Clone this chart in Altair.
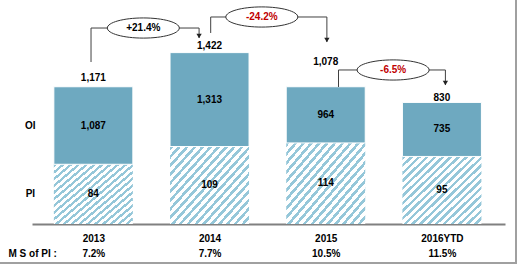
import json
import altair as alt
import pandas as pd

# ---------------- data ----------------
years = ["2013", "2014", "2015", "2016YTD"]
oi_values = [1087, 1313, 964, 735]
pi_values = [84, 109, 114, 95]
total_values = [1171, 1422, 1078, 830]
ms_of_pi = ["7.2%", "7.7%", "10.5%", "11.5%"]

# the chart is drawn not to scale: segment heights as read on its hidden axis
oi_drawn = [1090, 1320, 790, 760]
pi_drawn = [840, 1090, 1140, 950]
total_label_at = [2053, 2503, 2278, 1772]

# year-over-year change call-outs (hidden-axis units / year index units)
change_labels = ["+21.4%", "-24.2%", "-6.5%"]
change_start_x = [-0.02, 1.01, 2.11]
change_mid_x = [0.43, 1.45, 2.58]
change_end_x = [0.91, 2.01, 3.03]
change_start_y = [2278, 2686, 1927]
change_level_y = [2756, 2911, 2166]
change_end_y = [2616, 2559, 1955]

series_names = ["OI", "PI"]

# ---------------- tables ----------------
bars = pd.DataFrame({
    "idx": list(range(len(years))),
    "year": years,
    "oi": oi_values,
    "pi": pi_values,
    "total": total_values,
    "oi_drawn": oi_drawn,
    "pi_drawn": pi_drawn,
    "total_at": total_label_at,
})
bars["top"] = bars["oi_drawn"] + bars["pi_drawn"]
bars["oi_mid"] = bars["pi_drawn"] + bars["oi_drawn"] / 2
bars["pi_mid"] = bars["pi_drawn"] / 2

conn = pd.DataFrame({
    "label": change_labels,
    "sx": change_start_x,
    "mx": change_mid_x,
    "ex": change_end_x,
    "sy": change_start_y,
    "ly": change_level_y,
    "ey": change_end_y,
})

series = pd.DataFrame({
    "name": series_names,
    "idx": [0, 0],
    "y": [bars["oi_mid"][0], bars["pi_mid"][0]],
})

# ---------------- styles ----------------
FONT = "Liberation Sans"
OI_COLOR = "#6ea9c0"
HATCH = "#95c7d9"
LINE = "#404040"

N = 19
stops = []
for i in range(N):
    a = i / N
    b = (i + 0.45) / N
    c = (i + 1) / N
    stops += [
        alt.GradientStop(offset=a, color=HATCH),
        alt.GradientStop(offset=b, color=HATCH),
        alt.GradientStop(offset=b, color="#ffffff"),
        alt.GradientStop(offset=c, color="#ffffff"),
    ]
hatch = alt.LinearGradient(gradient="linear", stops=stops, x1=0, y1=0, x2=1.057, y2=0.936)

xscale = alt.Scale(domain=[-0.485, 3.5], nice=False, zero=False)
yscale = alt.Scale(domain=[0, 3150], nice=False, zero=True)

label_expr = json.dumps([[y, m] for y, m in zip(years, ms_of_pi)]) + "[datum.value]"

x_axis = alt.Axis(
    values=list(range(len(years))),
    labelExpr=label_expr,
    labelFont=FONT, labelFontSize=10, labelFontWeight="bold", labelColor="black",
    labelLineHeight=15, labelPadding=9, labelFlush=False, labelOverlap=False,
    ticks=False, grid=False, domainColor="#808080", domainWidth=2,
    title="M S of PI :", titleFont=FONT, titleFontSize=10, titleFontWeight="bold",
    titleColor="black", titleX=-24, titleY=29, titleAlign="left", titleBaseline="middle",
    titleAngle=0,
)


def X(field):
    return alt.X(field, type="quantitative", scale=xscale, axis=x_axis)


def Y(field):
    return alt.Y(field, type="quantitative", scale=yscale, axis=None)


base = alt.Chart(bars)

pi_bar = base.mark_bar(size=79, color=hatch).encode(
    x=X("idx"), y=Y("pi_drawn"), y2=alt.datum(0),
)
oi_bar = base.mark_bar(size=79, color=OI_COLOR, stroke="white", strokeWidth=1).encode(
    x=X("idx"), y=Y("pi_drawn"), y2="top:Q",
)

txt = dict(font=FONT, fontSize=10, fontWeight="bold", color="black", baseline="middle")
oi_txt = base.mark_text(**txt).encode(
    x=X("idx"), y=Y("oi_mid"), text=alt.Text("oi:Q", format=","),
)
pi_txt = base.mark_text(**txt).encode(
    x=X("idx"), y=Y("pi_mid"), text=alt.Text("pi:Q", format=","),
)
tot_txt = base.mark_text(**txt).encode(
    x=X("idx"), y=Y("total_at"), text=alt.Text("total:Q", format=","),
)
series_txt = alt.Chart(series).mark_text(dx=-63, **txt).encode(
    x=X("idx"), y=Y("y"), text="name:N",
)

c = alt.Chart(conn)
h_rule = c.mark_rule(color=LINE, strokeWidth=1).encode(
    x=X("sx"), x2="ex:Q", y=Y("ly"),
)
v1 = c.mark_rule(color=LINE, strokeWidth=1).encode(
    x=X("sx"), y=Y("sy"), y2="ly:Q",
)
v2 = c.mark_rule(color=LINE, strokeWidth=1).encode(
    x=X("ex"), y=Y("ly"), y2="ey:Q",
)
arrow = c.mark_point(shape="triangle-down", filled=True, color="#222222", size=28, opacity=1, yOffset=-2).encode(
    x=X("ex"), y=Y("ey"),
)
ellipse_path = "M-1,0 A1,0.28,0,1,1,1,0 A1,0.28,0,1,1,-1,0 Z"
ellipse = c.mark_point(shape=ellipse_path, size=72 * 72, filled=True, fill="white",
                       stroke="#333333", strokeWidth=1, opacity=1, fillOpacity=1).encode(
    x=X("mx"), y=Y("ly"),
)
change_txt = c.mark_text(font=FONT, fontSize=10, fontWeight="bold", baseline="middle").encode(
    x=X("mx"), y=Y("ly"),
    text="label:N",
    color=alt.condition("indexof(datum.label, '-') == 0", alt.value("#c00000"), alt.value("black")),
)

frame_src = alt.Chart(pd.DataFrame({"k": [0]}))
frame_right = frame_src.mark_rule(color="#a0a0a0", strokeWidth=2).encode(
    x=alt.value(484), y=alt.value(0), y2=alt.value(263),
)
frame_bottom = frame_src.mark_rule(color="#a0a0a0", strokeWidth=2).encode(
    x=alt.value(-32), x2=alt.value(485), y=alt.value(263),
)

chart = alt.layer(
    pi_bar, oi_bar, oi_txt, pi_txt, tot_txt, series_txt,
    h_rule, v1, v2, arrow, ellipse, change_txt,
    frame_right, frame_bottom,
).properties(
    width=473, height=224,
    padding={"left": 32, "top": 0, "right": 13, "bottom": 42},
    autosize=alt.AutoSizeParams(type="none"),
    background="white",
).configure_view(stroke=None)

chart.save("out.html", embed_options={"renderer": "svg", "actions": False})
